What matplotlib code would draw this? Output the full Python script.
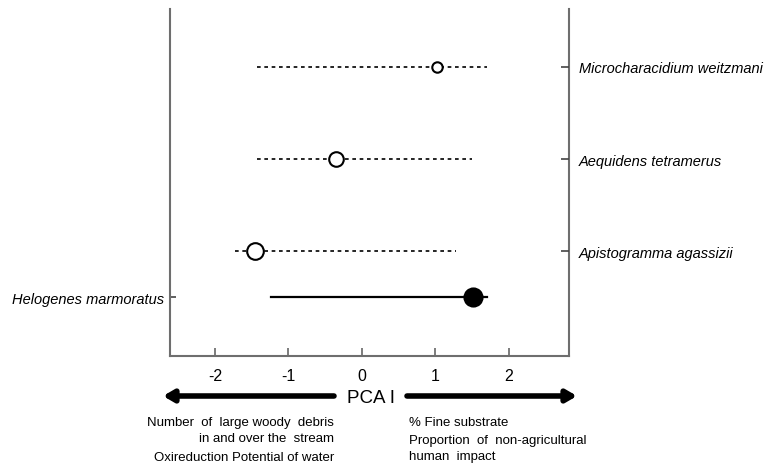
import matplotlib
matplotlib.use("Agg")
import matplotlib.pyplot as plt

plt.rcParams["font.family"] = ["Liberation Sans", "DejaVu Sans"]

# ── Data ──────────────────────────────────────
species = ["Microcharacidium weitzmani", "Aequidens tetramerus",
           "Apistogramma agassizii", "Helogenes marmoratus"]
ypos = [4, 3, 2, 1.5]
centre = [1.03, -0.35, -1.46, 1.52]
lo = [-1.43, -1.43, -1.73, -1.23]
hi = [1.70, 1.50, 1.28, 1.70]
msize = [7.5, 10.5, 12, 13]
filled = [False, False, False, True]

left_text = ["Number  of  large woody  debris", "in and over the  stream",
             "Oxireduction Potential of water"]
right_text = ["% Fine substrate", "Proportion  of  non-agricultural",
              "human  impact"]

# ── Plot ──────────────────────────────────────
fig = plt.figure(figsize=(7.74, 4.64), dpi=100)
ax = fig.add_axes([170 / 774, 1 - 357 / 464, 399 / 774, 347 / 464])

for y, c, a, b, ms, f in zip(ypos, centre, lo, hi, msize, filled):
    ls = "-" if f else (0, (2.2, 2.2))
    lw = 1.6 if f else 1.2
    ax.plot([a, b], [y, y], color="black", linestyle=ls, linewidth=lw, zorder=1)
    ax.plot(c, y, marker="o", markersize=ms, markeredgewidth=1.5,
            markeredgecolor="black", markerfacecolor="black" if f else "white",
            zorder=3)

ax.set_xlim(-2.61, 2.82)
ax.set_ylim(0.86, 4.63)
ax.set_xticks([-2, -1, 0, 1, 2])
ax.set_xticklabels(["-2", "-1", "0", "1", "2"], fontsize=11.5)
ax.tick_params(axis="x", direction="in", length=6, width=1.2, color="#666666",
               pad=9)

spine_col = "#6e6e6e"
for s in ["left", "right", "bottom"]:
    ax.spines[s].set_color(spine_col)
    ax.spines[s].set_linewidth(1.5)
ax.spines["top"].set_visible(False)

ax.set_yticks([1.5])
ax.set_yticklabels([species[3]], fontsize=10.5, style="italic")
ax.tick_params(axis="y", direction="in", length=4, width=1.2, color="#444444",
               pad=4)

ax2 = ax.twinx()
ax2.set_ylim(ax.get_ylim())
ax2.set_yticks(ypos[:3])
ax2.set_yticklabels(species[:3], fontsize=10.5, style="italic")
ax2.tick_params(axis="y", direction="in", length=6, width=1.2, color="#444444",
                pad=7)
for s in ["left", "right", "bottom", "top"]:
    ax2.spines[s].set_visible(False)

# ── Axis label with arrows ────────────────────
def fpx(x, y):
    return (x / 774, 1 - y / 464)

arrow = dict(arrowstyle="-|>,head_length=0.6,head_width=0.35", lw=4,
             color="black", shrinkA=0, shrinkB=0)
ax.annotate("", xy=fpx(163, 397), xytext=fpx(334, 397),
            xycoords="figure fraction", textcoords="figure fraction",
            arrowprops=arrow)
ax.annotate("", xy=fpx(577, 397), xytext=fpx(407, 397),
            xycoords="figure fraction", textcoords="figure fraction",
            arrowprops=arrow)
fig.text(*fpx(371, 399), "PCA I", fontsize=13.5, ha="center", va="center")

for t, yy in zip(left_text, [423, 439, 458]):
    fig.text(*fpx(334, yy), t, fontsize=9.5, ha="right", va="center")
for t, yy in zip(right_text, [423, 441, 457]):
    fig.text(*fpx(409, yy), t, fontsize=9.5, ha="left", va="center")

fig.savefig("out.png", dpi=100)
